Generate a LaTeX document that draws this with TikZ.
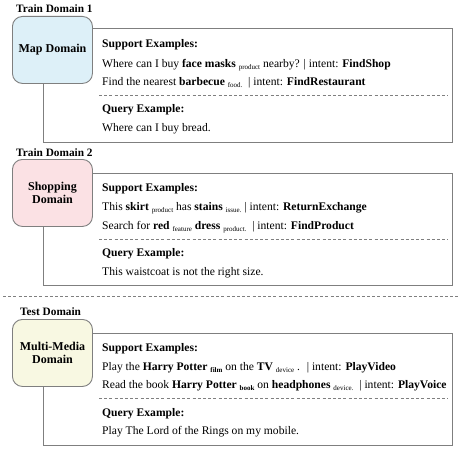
\documentclass[tikz,border=0pt]{standalone}
\usepackage{fontspec}
\setmainfont{Liberation Serif}
\newcommand{\lbl}[1]{\raisebox{-0.45ex}{\fontsize{7}{8}\selectfont #1}}
\newcommand{\lblb}[1]{\raisebox{-0.45ex}{\fontsize{7}{8}\selectfont\bfseries #1}}
\definecolor{bordergray}{HTML}{7F7F7F}
\definecolor{mapfill}{HTML}{DDF0F8}
\definecolor{shopfill}{HTML}{FBE1E4}
\definecolor{mediafill}{HTML}{F8F8E2}
\tikzset{
  domainbox/.style={draw=bordergray, line width=0.9pt, rounded corners=10pt, minimum width=80pt, minimum height=67pt, anchor=north west, inner sep=0pt, align=center, font=\fontsize{12}{13.5}\selectfont\bfseries, text=black},
  panel/.style={draw=bordergray, line width=1pt},
  sepline/.style={draw=bordergray, line width=0.8pt, dash pattern=on 3pt off 2.2pt},
  header/.style={anchor=west, font=\fontsize{11.3}{13}\selectfont\bfseries, inner sep=0pt},
  txt/.style={anchor=base west, font=\fontsize{11.6}{13}\selectfont, inner sep=0pt},
  bold/.style={anchor=base west, font=\fontsize{11.6}{13}\selectfont\bfseries, inner sep=0pt}
}
\begin{document}
\begin{tikzpicture}[x=1pt,y=-1pt]
\useasboundingbox[fill=white] (0,0) rectangle (470,460);

% ---------- Train Domain 1 ----------
\node[header] (h1) at (16,9) {Train Domain 1};
\draw[panel] (43,29) rectangle (452,142);
\node[domainbox, fill=mapfill] (d1) at (12,16) {\raisebox{1pt}{Map Domain}};
\node[bold] (s1) at (102,47) {Support Examples:};
\node[txt] (s1a) at (102,67) {Where can I buy \textbf{face masks} \lbl{product} nearby? | intent: \textbf{FindShop}};
\node[txt] (s1b) at (102,85.5) {Find the nearest \textbf{barbecue} \lbl{food.} \ | intent: \textbf{FindRestaurant}};
\coordinate (l1a) at (99,95);
\coordinate (l1b) at (448,95);
\draw[sepline] (l1a) -- (l1b);
\node[bold] (q1) at (102,112.5) {Query Example:};
\node[txt] (q1a) at (102,131) {Where can I buy bread.};

% ---------- Train Domain 2 ----------
\node[header] (h2) at (16,153) {Train Domain 2};
\draw[panel] (43,173) rectangle (452,285);
\node[domainbox, fill=shopfill] (d2) at (12,159) {Shopping\\Domain};
\node[bold] (s2) at (102,191) {Support Examples:};
\node[txt] (s2a) at (102,210.5) {This \textbf{skirt} \lbl{product} has \textbf{stains} \lbl{issue.} | intent: \textbf{ReturnExchange}};
\node[txt] (s2b) at (102,229) {Search for \textbf{red} \lbl{feature} \textbf{dress} \lbl{product.} \ | intent: \textbf{FindProduct}};
\coordinate (l2a) at (99,239);
\coordinate (l2b) at (448,239);
\draw[sepline] (l2a) -- (l2b);
\node[bold] (q2) at (102,256.5) {Query Example:};
\node[txt] (q2a) at (102,275) {This waistcoat is not the right size.};

% ---------- separator ----------
\coordinate (sepL) at (3,296);
\coordinate (sepR) at (460,296);
\draw[sepline] (sepL) -- (sepR);

% ---------- Test Domain ----------
\node[header] (h3) at (20,312) {Test Domain};
\draw[panel] (43,333) rectangle (452,445);
\node[domainbox, fill=mediafill] (d3) at (12,319) {Multi-Media\\Domain};
\node[bold] (s3) at (102,351) {Support Examples:};
\node[txt] (s3a) at (102,370) {Play the \textbf{Harry Potter} \lblb{film} on the \textbf{TV} \lbl{device} . \ | intent: \textbf{PlayVideo}};
\node[txt] (s3b) at (102,388) {Read the book \textbf{Harry Potter} \lblb{book} on \textbf{headphones} \lbl{device.} \ | intent: \textbf{PlayVoice}};
\coordinate (l3a) at (99,398);
\coordinate (l3b) at (448,398);
\draw[sepline] (l3a) -- (l3b);
\node[bold] (q3) at (102,416) {Query Example:};
\node[txt] (q3a) at (102,434) {Play The Lord of the Rings on my mobile.};
\end{tikzpicture}
\end{document}
